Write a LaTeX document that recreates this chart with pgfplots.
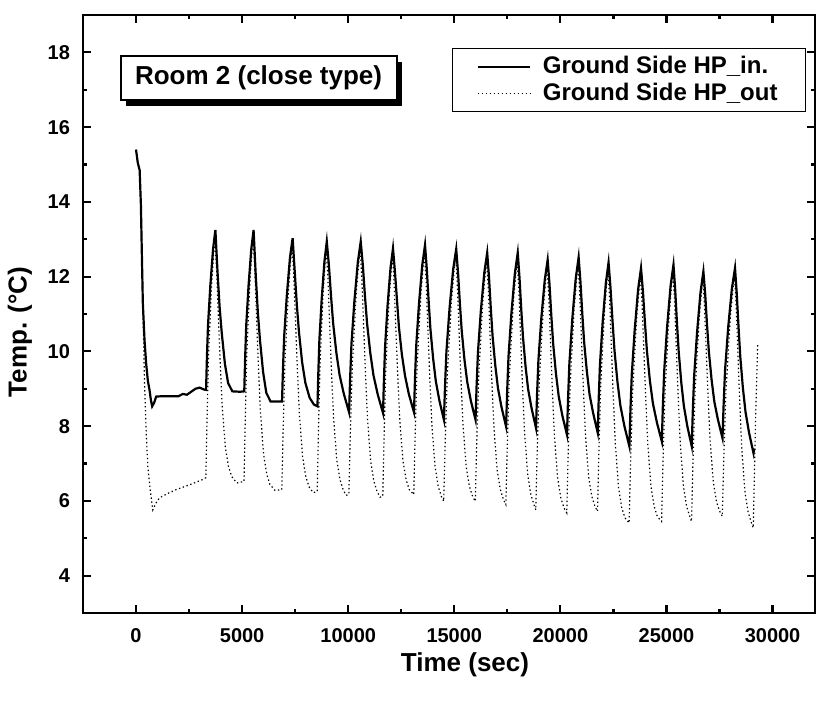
\documentclass[border=0pt]{standalone}
\usepackage{fontspec}
\setmainfont{Liberation Sans}
\usepackage{pgfplots}
\pgfplotsset{compat=1.18}
\usepackage{pgfplotstable}
\usetikzlibrary{shadows}

% ground side heat pump inlet (solid)
\pgfplotstableread{
t T
0 15.40
80 15.05
170 14.85
230 13.90
260 13.00
320 11.30
400 10.30
480 9.65
560 9.20
635 8.97
700 8.70
760 8.53
850 8.62
950 8.79
1200 8.80
1600 8.80
2000 8.80
2200 8.86
2400 8.84
2600 8.92
2800 9.00
3000 9.03
3200 8.98
3300 8.97
3340 9.83
3390 10.68
3500 11.75
3630 12.74
3740 13.25
3840 12.13
3940 11.18
4040 10.49
4190 9.66
4340 9.15
4540 8.93
4900 8.92
5100 8.93
5140 9.79
5190 10.66
5300 11.74
5430 12.73
5540 13.25
5640 12.06
5740 11.05
5840 10.31
5990 9.44
6140 8.89
6340 8.66
6880 8.66
6925 9.53
6982 10.41
7107 11.50
7255 12.51
7380 13.03
7480 12.13
7580 11.23
7680 10.51
7830 9.70
7980 9.16
8180 8.76
8380 8.58
8550 8.53
8590 9.41
8640 10.29
8750 11.40
8880 12.41
8990 12.94
9090 12.30
9190 11.48
9290 10.75
9440 9.97
9590 9.38
9790 8.87
10040 8.37
10090 9.28
10153 10.20
10290 11.34
10453 12.39
10590 12.94
10690 12.30
10790 11.47
10890 10.74
11040 9.96
11190 9.36
11390 8.85
11640 8.35
11683 9.23
11736 10.11
11854 11.22
11993 12.23
12110 12.76
12200 12.15
12300 11.36
12390 10.65
12530 9.91
12680 9.34
12860 8.85
13100 8.37
13147 9.27
13206 10.16
13336 11.28
13490 12.31
13620 12.85
13705 12.19
13790 11.35
13874 10.60
14002 9.81
14129 9.20
14298 8.68
14510 8.17
14563 9.08
14629 10.00
14774 11.14
14945 12.19
15090 12.74
15177 12.10
15263 11.28
15350 10.55
15480 9.77
15610 9.18
15783 8.67
16000 8.17
16050 9.06
16113 9.96
16250 11.08
16413 12.10
16550 12.64
16635 11.99
16720 11.15
16804 10.41
16932 9.62
17059 9.01
17228 8.50
17440 7.99
17490 8.92
17553 9.85
17690 11.01
17853 12.08
17990 12.64
18072 11.98
18154 11.14
18236 10.39
18359 9.59
18481 8.98
18645 8.47
18850 7.95
18900 8.85
18963 9.75
19100 10.88
19263 11.91
19400 12.45
19487 11.79
19573 10.95
19660 10.20
19790 9.41
19920 8.80
20093 8.28
20310 7.77
20360 8.72
20423 9.67
20560 10.86
20723 11.95
20860 12.52
20946 11.86
21031 11.02
21117 10.26
21246 9.47
21374 8.85
21546 8.34
21760 7.82
21806 8.73
21864 9.64
21992 10.78
22143 11.83
22270 12.38
22363 11.69
22457 10.81
22550 10.02
22690 9.18
22830 8.54
23017 8.00
23250 7.46
23300 8.41
23363 9.37
23500 10.56
23663 11.66
23800 12.23
23893 11.58
23987 10.75
24080 10.00
24220 9.21
24360 8.61
24547 8.10
24780 7.59
24830 8.54
24893 9.48
25030 10.66
25193 11.75
25330 12.32
25412 11.64
25494 10.76
25576 9.99
25699 9.16
25821 8.53
25985 7.99
26190 7.46
26240 8.40
26303 9.33
26440 10.50
26603 11.58
26740 12.14
26826 11.52
26911 10.71
26997 10.00
27126 9.24
27254 8.66
27426 8.17
27640 7.68
27694 8.59
27761 9.50
27908 10.64
28082 11.68
28230 12.23
28313 11.54
28396 10.65
28479 9.85
28603 9.01
28727 8.37
28893 7.82
29100 7.28
29130 7.40
}\hpin

% ground side heat pump outlet (dotted)
\pgfplotstableread{
t T
0 15.35
100 15.00
180 14.80
260 13.20
330 11.00
400 9.15
480 7.82
555 6.92
667 6.30
790 5.76
950 5.95
1105 6.08
1500 6.20
1890 6.30
2520 6.43
3140 6.57
3290 6.62
3340 8.03
3420 9.96
3570 11.89
3710 13.05
3790 12.27
3870 11.09
3960 9.79
4060 8.54
4210 7.43
4360 6.91
4510 6.65
4750 6.48
5090 6.52
5140 7.97
5220 9.94
5370 11.92
5510 13.10
5590 12.28
5670 11.06
5760 9.70
5860 8.41
6010 7.25
6160 6.71
6310 6.44
6550 6.28
6870 6.30
6926 7.75
7018 9.72
7189 11.70
7350 12.88
7430 12.08
7510 10.89
7600 9.57
7700 8.31
7850 7.18
8000 6.65
8150 6.38
8350 6.22
8540 6.25
8590 7.69
8670 9.65
8820 11.61
8960 12.79
9040 12.00
9120 10.80
9210 9.48
9310 8.22
9460 7.10
9610 6.57
9760 6.30
9900 6.15
10030 6.17
10091 7.63
10192 9.61
10382 11.60
10560 12.79
10640 11.99
10720 10.79
10810 9.46
10910 8.19
11060 7.05
11210 6.52
11360 6.25
11500 6.10
11630 6.12
11683 7.55
11769 9.49
11930 11.44
12080 12.61
12160 11.84
12240 10.68
12330 9.39
12430 8.17
12580 7.07
12730 6.56
12880 6.30
13090 6.17
13148 7.61
13243 9.57
13423 11.52
13590 12.70
13670 11.89
13750 10.69
13840 9.35
13940 8.07
14090 6.93
14240 6.39
14390 6.12
14500 5.99
14564 7.44
14671 9.42
14872 11.40
15060 12.59
15140 11.80
15220 10.61
15310 9.29
15410 8.04
15560 6.91
15710 6.39
15860 6.12
15990 5.99
16051 7.42
16152 9.37
16342 11.32
16520 12.49
16600 11.70
16680 10.51
16770 9.20
16870 7.94
17020 6.82
17170 6.30
17320 6.03
17430 5.90
17491 7.35
17592 9.33
17782 11.30
17960 12.49
18040 11.68
18120 10.47
18210 9.13
18310 7.85
18460 6.70
18610 6.16
18760 5.89
18840 5.76
18901 7.20
19002 9.16
19192 11.12
19370 12.30
19450 11.51
19530 10.31
19620 8.99
19720 7.73
19870 6.61
20020 6.08
20170 5.81
20300 5.68
20361 7.15
20462 9.16
20652 11.17
20830 12.37
20910 11.57
20990 10.38
21080 9.05
21180 7.78
21330 6.65
21480 6.12
21630 5.85
21750 5.72
21807 7.15
21900 9.11
22076 11.06
22240 12.23
22320 11.41
22400 10.18
22490 8.82
22590 7.52
22740 6.36
22890 5.82
23040 5.55
23240 5.41
23301 6.88
23402 8.88
23592 10.88
23770 12.08
23850 11.28
23930 10.09
24020 8.77
24120 7.51
24270 6.38
24420 5.85
24570 5.58
24770 5.45
24831 6.93
24932 8.94
25122 10.96
25300 12.17
25380 11.36
25460 10.15
25550 8.81
25650 7.53
25800 6.39
25950 5.85
26100 5.58
26180 5.45
26241 6.89
26342 8.85
26532 10.81
26710 11.99
26790 11.22
26870 10.07
26960 8.79
27060 7.57
27210 6.49
27360 5.97
27510 5.72
27630 5.59
27695 7.02
27804 8.96
28009 10.91
28200 12.08
28280 11.26
28360 10.04
28450 8.68
28550 7.39
28700 6.23
28850 5.69
29000 5.42
29090 5.28
29140 6.60
29200 8.20
29300 10.22
}\hpout

\begin{document}
\begin{tikzpicture}
\begin{axis}[
    name=ax,
    scale only axis,
    width=366bp, height=299bp,
    xmin=-2500, xmax=32000,
    ymin=3, ymax=19,
    xtick={0,5000,...,30000},
    ytick={4,6,...,18},
    minor x tick num=1,
    minor y tick num=1,
    tick align=inside,
    major tick length=4bp,
    minor tick length=2.2bp,
    every tick/.style={black, line width=1.1pt},
    axis line style={line width=1.4pt},
    scaled x ticks=false,
    /pgf/number format/assume math mode=true,
    /pgf/number format/1000 sep={},
    ticklabel style={font=\bfseries\fontsize{10bp}{12bp}\selectfont},
    xticklabel style={yshift=-4bp},
    yticklabel style={xshift=-3bp},
    xlabel={Time (sec)},
    ylabel={Temp. (°C)},
    every axis x label/.style={at={(axis description cs:0.5,0)}, anchor=center,
        yshift=-26bp, xshift=8bp, font=\bfseries\fontsize{13bp}{15bp}\selectfont},
    every axis y label/.style={at={(axis description cs:0,0.5)},
        xshift=-31.5bp, yshift=-9bp, rotate=90, anchor=center,
        font=\bfseries\fontsize{13bp}{15bp}\selectfont},
    legend style={at={(rel axis cs:0.988,0.945)}, anchor=north east,
        draw=black, line width=0.7pt, inner xsep=12bp, inner ysep=2bp,
        font=\bfseries\fontsize{12bp}{13bp}\selectfont,
        row sep=-1bp},
    legend cell align=left,
    legend image code/.code={\draw[#1] (0bp,0bp) -- (26bp,0bp); \path (30bp,0bp);},
]
\addplot[black, line width=1.1pt] table[x=t, y=T] {\hpin};
\addlegendentry{Ground Side HP\_in.}
\addplot[black, line width=0.6pt, dash pattern=on 0.7pt off 1.3pt] table[x=t, y=T] {\hpout};
\addlegendentry{Ground Side HP\_out}
\node[draw=black, line width=1pt, fill=white, anchor=north west,
      minimum width=138bp, minimum height=22bp, inner sep=2bp,
      drop shadow={shadow xshift=2.5bp, shadow yshift=-3bp, fill=black, opacity=1},
      font=\bfseries\fontsize{13bp}{15bp}\selectfont]
    at (rel axis cs:0.05,0.933) {Room 2 (close type)};
\end{axis}
\pgfresetboundingbox
\path ([xshift=-41.5bp,yshift=-45.5bp]ax.south west) rectangle ([xshift=6bp,yshift=7.5bp]ax.north east);
\end{tikzpicture}
\end{document}
